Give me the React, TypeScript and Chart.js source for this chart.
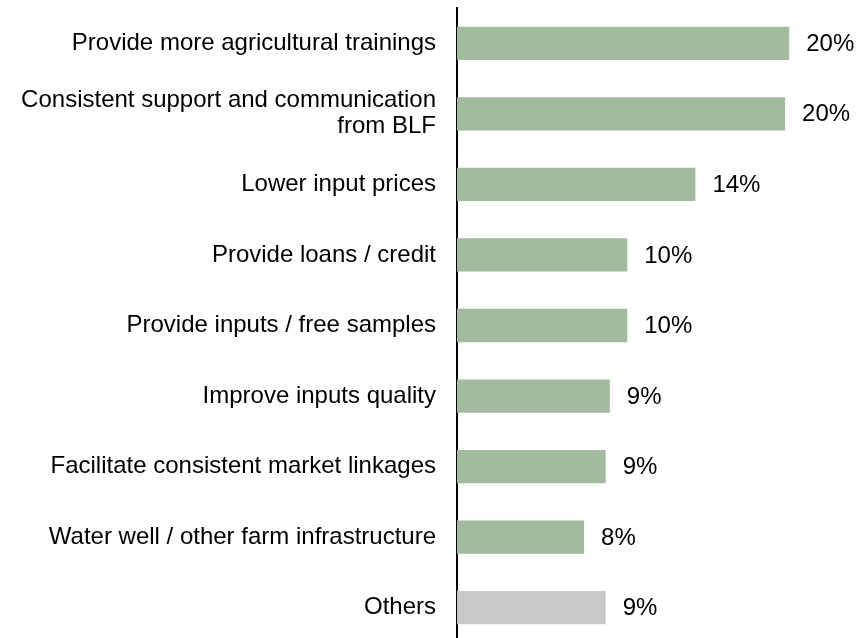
import React, { useEffect, useRef } from "react";
import { Chart, registerables } from "chart.js";

Chart.register(...registerables);

const categories: (string | string[])[] = [
  "Provide more agricultural trainings",
  ["Consistent support and communication", "from BLF"],
  "Lower input prices",
  "Provide loans / credit",
  "Provide inputs / free samples",
  "Improve inputs quality",
  "Facilitate consistent market linkages",
  "Water well / other farm infrastructure",
  "Others",
];
const values = [20.0, 19.75, 14.35, 10.25, 10.25, 9.2, 8.95, 7.65, 8.95];
const valueLabels = ["20%", "20%", "14%", "10%", "10%", "9%", "9%", "8%", "9%"];
const GREEN = "#a2bb9e";
const GREY = "#c8c9cb";
const barColors = values.map((_, i) => (i === values.length - 1 ? GREY : GREEN));

const FONT = "'Liberation Sans', Arial, Helvetica, sans-serif";

const valueLabelPlugin = {
  id: "valueLabels",
  afterDatasetsDraw(chart: any) {
    const { ctx } = chart;
    const meta = chart.getDatasetMeta(0);
    ctx.save();
    ctx.font = `24px ${FONT}`;
    ctx.fillStyle = "#000";
    ctx.textAlign = "left";
    ctx.textBaseline = "middle";
    meta.data.forEach((bar: any, i: number) => {
      ctx.fillText(valueLabels[i], bar.x + 17, bar.y + 1);
    });
    ctx.restore();
  },
};

export default function App() {
  const ref = useRef<HTMLCanvasElement>(null);
  useEffect(() => {
    if (!ref.current) return;
    const chart = new Chart(ref.current, {
      type: "bar",
      data: {
        labels: categories,
        datasets: [
          {
            data: values,
            backgroundColor: barColors,
            borderWidth: 0,
            categoryPercentage: 1,
            barPercentage: 0.472,
          },
        ],
      },
      options: {
        indexAxis: "y",
        animation: false,
        responsive: false,
        maintainAspectRatio: false,
        layout: { padding: { top: 8, bottom: 0, left: 0, right: 0 } },
        plugins: {
          legend: { display: false },
          tooltip: { enabled: false },
        },
        scales: {
          x: {
            display: false,
            min: 0,
            max: 24.2,
          },
          y: {
            grid: { display: false, drawTicks: false },
            border: { display: true, color: "#000", width: 2 },
            ticks: {
              color: "#000",
              font: { family: FONT, size: 24, lineHeight: 1.08 },
              padding: 21,
              autoSkip: false,
            },
            afterFit: (s: any) => {
              s.width = 457;
              s.paddingTop = 0;
              s.paddingBottom = 0;
            },
          },
        },
      },
      plugins: [valueLabelPlugin],
    });
    return () => chart.destroy();
  }, []);
  return (
    <div
      style={{
        position: "fixed",
        left: 0,
        top: 0,
        width: 859,
        height: 638,
        overflow: "hidden",
        background: "#fff",
      }}
    >
      <canvas ref={ref} width={859} height={643} style={{ display: "block" }} />
    </div>
  );
}
